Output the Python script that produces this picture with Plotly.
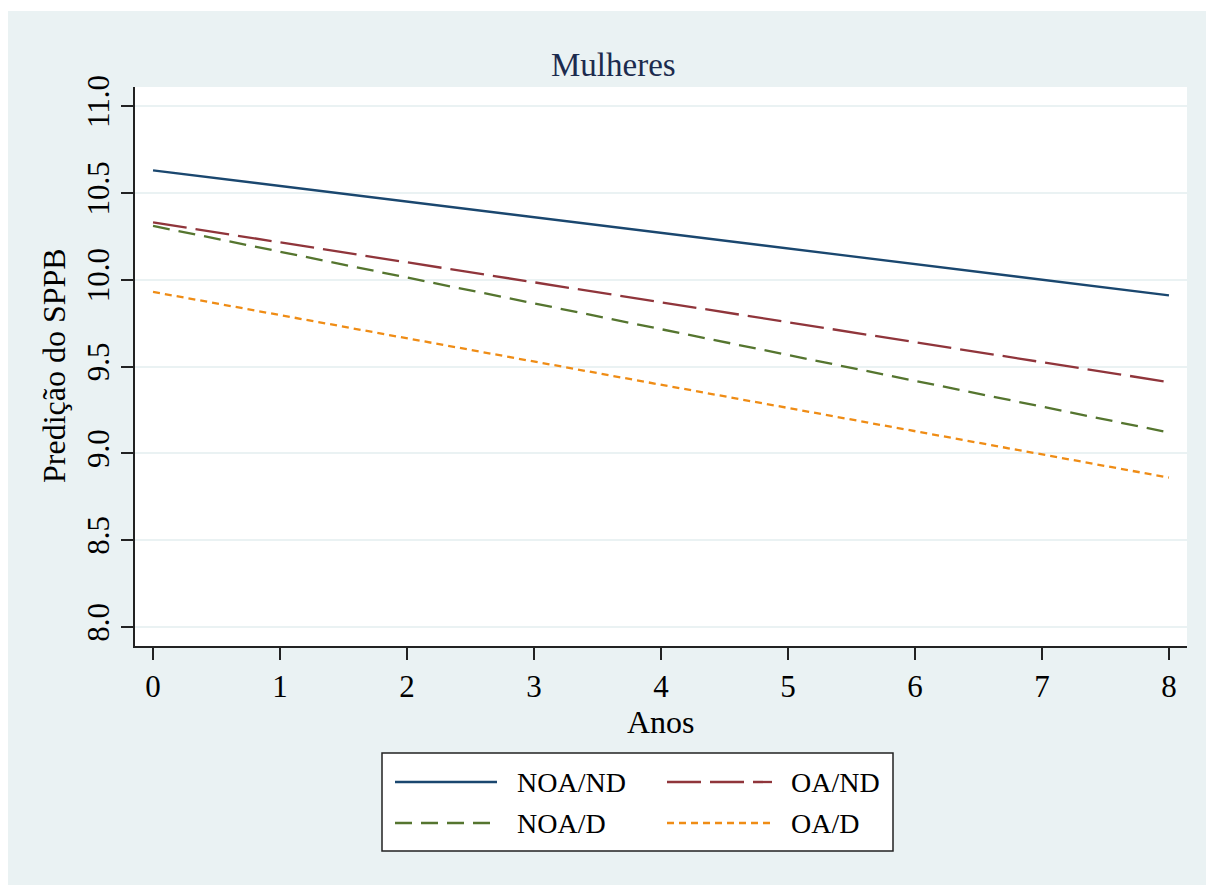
import plotly.graph_objects as go

# ---------------- data ----------------
anos = [0, 8]
series_names = ["NOA/ND", "OA/ND", "NOA/D", "OA/D"]
noa_nd = [10.63, 9.91]
oa_nd = [10.33, 9.41]
noa_d = [10.31, 9.12]
oa_d = [9.93, 8.86]
y_ticks = [8.0, 8.5, 9.0, 9.5, 10.0, 10.5, 11.0]
x_ticks = [0, 1, 2, 3, 4, 5, 6, 7, 8]

values = [noa_nd, oa_nd, noa_d, oa_d]
colors = ["#1a476f", "#90353b", "#55752f", "#ef8c15"]
dashes = ["solid", "34px,9px", "17px,9px", "7px,5px"]

# ---------------- layout geometry (px) ----------------
W, H = 1206, 885
PL, PR, PT, PB = 135, 1187, 87, 646
BG = "#eaf2f3"
FONT = "Liberation Serif, Times New Roman, serif"


def px(x):
    return (x - PL) / (PR - PL)


def py(y):
    return (PB - y) / (PB - PT)


fig = go.Figure()
for name, v, c, d in zip(series_names, values, colors, dashes):
    fig.add_trace(go.Scatter(x=anos, y=v, mode="lines", name=name,
                             line=dict(color=c, width=2.3, dash=d),
                             showlegend=False))

shapes = []
# white border strips (top and left)
shapes.append(dict(type="rect", xref="paper", yref="paper", layer="below",
                   x0=px(0), x1=px(W), y0=py(11), y1=py(0),
                   fillcolor="white", line=dict(width=0)))
shapes.append(dict(type="rect", xref="paper", yref="paper", layer="below",
                   x0=px(0), x1=px(8), y0=py(H), y1=py(0),
                   fillcolor="white", line=dict(width=0)))
# legend box
LX0, LX1, LY0, LY1 = 382, 893, 753, 851
shapes.append(dict(type="rect", xref="paper", yref="paper", layer="above",
                   x0=px(LX0), x1=px(LX1), y0=py(LY1), y1=py(LY0),
                   fillcolor="white", line=dict(color="#222222", width=1.5)))

annotations = []
# legend entries: 2 columns, order NOA/ND, OA/ND / NOA/D, OA/D
rows_y = [782, 823]
cols = [(395, 497, 515), (667, 772, 789)]
for i, (name, c, d) in enumerate(zip(series_names, colors, dashes)):
    r, k = divmod(i, 2)
    x0, x1, xt = cols[k]
    yy = rows_y[r]
    shapes.append(dict(type="line", xref="paper", yref="paper", layer="above",
                       x0=px(x0), x1=px(x1), y0=py(yy), y1=py(yy),
                       line=dict(color=c, width=2.3, dash=d)))
    annotations.append(dict(text=name, xref="paper", yref="paper",
                            x=px(xt), y=py(yy), xanchor="left", yanchor="middle",
                            showarrow=False, font=dict(family=FONT, size=28, color="black")))

# title and axis titles
annotations.append(dict(text="Mulheres", xref="paper", yref="paper",
                        x=px(613), y=py(65), xanchor="center", yanchor="middle",
                        showarrow=False, font=dict(family=FONT, size=33, color="#1c2b4e")))
annotations.append(dict(text="Anos", xref="paper", yref="paper",
                        x=px(661), y=py(722), xanchor="center", yanchor="middle",
                        showarrow=False, font=dict(family=FONT, size=32, color="black")))
annotations.append(dict(text="Predição do SPPB", xref="paper", yref="paper",
                        x=px(54), y=py(366), xanchor="center", yanchor="middle",
                        textangle=-90,
                        showarrow=False, font=dict(family=FONT, size=32, color="black")))

fig.update_layout(
    width=W, height=H,
    margin=dict(l=PL, r=W - PR, t=PT, b=H - PB, pad=0),
    paper_bgcolor=BG, plot_bgcolor="white",
    font=dict(family=FONT, size=31, color="black"),
    shapes=shapes, annotations=annotations,
    showlegend=False,
)
fig.update_xaxes(range=[-0.142, 8.142], tickvals=x_ticks,
                 showgrid=False, zeroline=False,
                 showline=True, linecolor="#222222", linewidth=1.5,
                 ticks="outside", ticklen=12, tickwidth=1.5, tickcolor="#222222",
                 tickfont=dict(family=FONT, size=31, color="black"))
fig.update_yaxes(range=[7.89, 11.11], tickvals=y_ticks,
                 ticktext=[f"{v:.1f}" for v in y_ticks],
                 showgrid=True, gridcolor=BG, gridwidth=2, zeroline=False,
                 showline=True, linecolor="#222222", linewidth=1.5,
                 ticks="outside", ticklen=12, tickwidth=1.5, tickcolor="#222222",
                 tickangle=-90,
                 tickfont=dict(family=FONT, size=31, color="black"))

fig.write_html("out.html")
